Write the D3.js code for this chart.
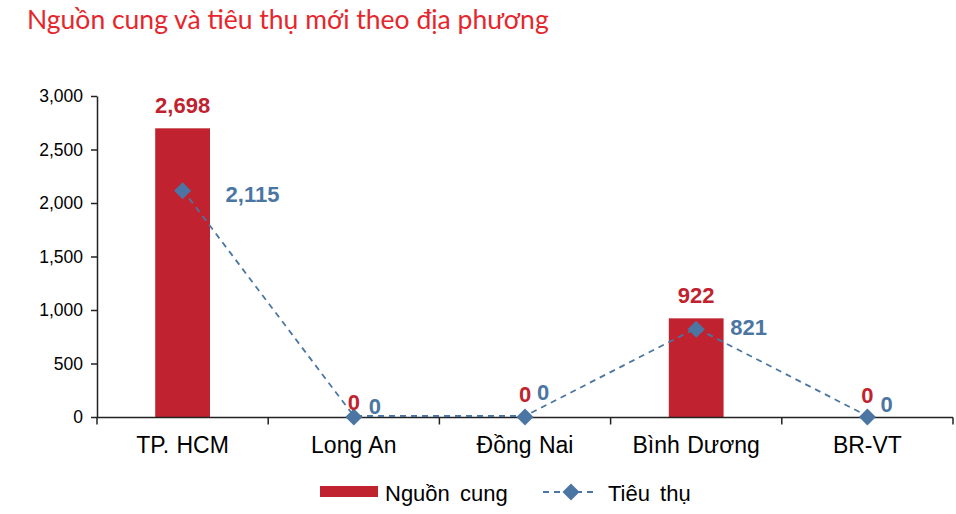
<!DOCTYPE html>
<html><head><meta charset="utf-8">
<script src="https://cdn.jsdelivr.net/npm/d3@7/dist/d3.min.js"></script>
<style>
html,body{margin:0;padding:0;background:#fff;}
svg{display:block;}
</style></head>
<body>
<script>
const categories = ["TP. HCM", "Long An", "Đồng Nai", "Bình Dương", "BR-VT"];
const supply = [2698, 0, 0, 922, 0];        // Nguồn cung
const consumption = [2115, 0, 0, 821, 0];   // Tiêu thụ
const yTicks = [0, 500, 1000, 1500, 2000, 2500, 3000];
const seriesNames = ["Nguồn cung", "Tiêu thụ"];
const titleText = "Nguồn cung và tiêu thụ mới theo địa phương";

// label layout tweaks (as placed in the source chart)
const supplyLabelDy = [-15, -7.5, -15, -15, -14];
const consLabelDx = [43, 15, 12, 34, 13];
const consLabelDy = [11, -3, -17, 5.5, -5.5];

const W = 956, H = 514;
const RED = "#c0232f", BLUE = "#4b76a3", TITLE = "#e5262c";
const svg = d3.select("body").append("svg").attr("width", W).attr("height", H);

svg.append("text").attr("x", 27).attr("y", 29)
  .attr("font-family", "Lato").attr("font-size", 26.5).attr("fill", TITLE)
  .text(titleText);

const x = d3.scaleBand().domain(categories).range([97, 953]).padding(0);
const y = d3.scaleLinear().domain([0, 3000]).range([417, 96]);

// y axis
const yAxis = d3.axisLeft(y).tickValues(yTicks).tickFormat(d3.format(",")).tickSize(6).tickPadding(8).tickSizeOuter(0);
const gy = svg.append("g").attr("transform", "translate(97,0)").call(yAxis);
gy.select(".domain").attr("stroke", "#222").attr("stroke-width", 1.5);
gy.selectAll(".tick line").attr("stroke", "#222").attr("stroke-width", 1.5);
gy.selectAll(".tick text").attr("font-family", "Liberation Sans, Arial").attr("font-size", 17.5).attr("fill", "#000");

// bars
const bw = x.bandwidth() * 0.32;
svg.append("g").selectAll("rect").data(supply).join("rect")
  .attr("x", (d, i) => x(categories[i]) + x.bandwidth() / 2 - bw / 2)
  .attr("width", bw)
  .attr("y", d => y(d))
  .attr("height", d => y(0) - y(d))
  .attr("fill", RED);

// x axis
const gx = svg.append("g").attr("transform", "translate(0,417.5)");
gx.append("line").attr("x1", 97).attr("x2", 953).attr("stroke", "#222").attr("stroke-width", 1.5);
const bounds = categories.map(c => x(c)).concat([x.range()[1]]);
gx.selectAll("line.tk").data(bounds).join("line").attr("class", "tk")
  .attr("x1", d => d).attr("x2", d => d).attr("y1", 0).attr("y2", 7)
  .attr("stroke", "#222").attr("stroke-width", 1.5);
gx.selectAll("text").data(categories).join("text")
  .attr("x", d => x(d) + x.bandwidth() / 2).attr("y", 35.5)
  .attr("text-anchor", "middle").attr("font-family", "Liberation Sans, Arial")
  .attr("font-size", 23).attr("word-spacing", 1).attr("fill", "#000").text(d => d);

// line
const cx = i => x(categories[i]) + x.bandwidth() / 2;
const line = d3.line().x((d, i) => cx(i)).y(d => y(d) - 1);
svg.append("path").datum(consumption).attr("d", line)
  .attr("fill", "none").attr("stroke", BLUE).attr("stroke-width", 1.8).attr("stroke-dasharray", "6,5");
svg.append("g").selectAll("rect").data(consumption).join("rect")
  .attr("x", -6).attr("y", -6).attr("width", 12).attr("height", 12)
  .attr("transform", (d, i) => `translate(${cx(i)},${y(d)}) rotate(45)`)
  .attr("fill", BLUE);

// data labels
const fmt = d3.format(",");
svg.append("g").selectAll("text").data(supply).join("text")
  .attr("x", (d, i) => cx(i)).attr("y", (d, i) => y(d) + supplyLabelDy[i])
  .attr("text-anchor", "middle").attr("font-family", "Liberation Sans, Arial")
  .attr("font-weight", "bold").attr("font-size", 22).attr("fill", RED).text(d => fmt(d));
svg.append("g").selectAll("text").data(consumption).join("text")
  .attr("x", (d, i) => cx(i) + consLabelDx[i]).attr("y", (d, i) => y(d) + consLabelDy[i])
  .attr("text-anchor", "start").attr("font-family", "Liberation Sans, Arial")
  .attr("font-weight", "bold").attr("font-size", 22).attr("fill", BLUE).text(d => fmt(d));

// legend
const lg = svg.append("g");
lg.append("rect").attr("x", 320).attr("y", 486).attr("width", 58).attr("height", 11).attr("fill", RED);
lg.append("text").attr("x", 385).attr("y", 501).attr("font-family", "Liberation Sans, Arial")
  .attr("font-size", 22).attr("word-spacing", 4).attr("fill", "#000").text(seriesNames[0]);
lg.append("line").attr("x1", 543).attr("x2", 598).attr("y1", 492).attr("y2", 492)
  .attr("stroke", BLUE).attr("stroke-width", 1.8).attr("stroke-dasharray", "6,5");
lg.append("rect").attr("x", -6).attr("y", -6).attr("width", 12).attr("height", 12)
  .attr("transform", "translate(571,492) rotate(45)").attr("fill", BLUE);
lg.append("text").attr("x", 608).attr("y", 501).attr("font-family", "Liberation Sans, Arial")
  .attr("font-size", 22).attr("word-spacing", 4).attr("fill", "#000").text(seriesNames[1]);
</script>
</body></html>
